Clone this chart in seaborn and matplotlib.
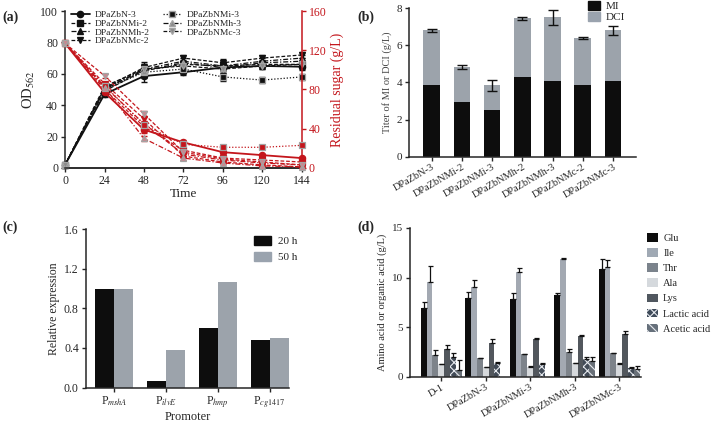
import numpy as np
import pandas as pd
import matplotlib
matplotlib.use('Agg')
import matplotlib.pyplot as plt
from matplotlib.patches import Patch
from matplotlib.lines import Line2D
import seaborn as sns

# ---------------- data ----------------
# (a) growth and residual sugar
time_h = [0, 24, 48, 72, 96, 120, 144]
strains_a = ['DPaZbN-3', 'DPaZbNMi-2', 'DPaZbNMh-2', 'DPaZbNMc-2',
             'DPaZbNMi-3', 'DPaZbNMh-3', 'DPaZbNMc-3']
od_n3 = [2, 47, 58.5, 61, 64, 65, 64.5]
od_mi2 = [2, 49, 62, 66, 65, 66, 66]
od_mh2 = [2, 50, 63, 68, 65, 68, 70]
od_mc2 = [2, 51, 64, 70, 67, 70, 72]
od_mi3 = [2, 50, 61, 63, 58, 56, 58]
od_mh3 = [2, 51, 62, 67, 64, 67, 68]
od_mc3 = [2, 52, 63, 65, 63, 65, 66]
od_err = [0.5, 1.5, 3.5, 2, 2.5, 2, 2]
sugar_n3 = [127, 77, 39, 26, 16, 13, 10]
sugar_mi2 = [127, 80, 42, 18, 10, 8, 6]
sugar_mh2 = [127, 83, 45, 14, 8, 5, 3]
sugar_mc2 = [127, 86, 50, 12, 6, 3, 1]
sugar_mi3 = [127, 84, 44, 24, 21, 21, 23]
sugar_mh3 = [127, 82, 30, 10, 5, 2, 1]
sugar_mc3 = [127, 94, 55, 16, 9, 6, 3]
sugar_err = [1, 2, 3, 2, 1.5, 1.5, 1.5]

# (b) MI / DCI titer
strains_b = ['DPaZbN-3', 'DPaZbNMi-2', 'DPaZbNMi-3', 'DPaZbNMh-2',
             'DPaZbNMh-3', 'DPaZbNMc-2', 'DPaZbNMc-3']
mi_titer = [3.85, 2.95, 2.5, 4.3, 4.1, 3.85, 4.1]
total_titer = [6.8, 4.85, 3.85, 7.45, 7.5, 6.4, 6.8]
total_err = [0.1, 0.1, 0.3, 0.07, 0.4, 0.05, 0.25]

# (c) promoter strength
promoters = [r'P$_{mshA}$', r'P$_{ilvE}$', r'P$_{hmp}$', r'P$_{cg1417}$']
expr_20h = [1.0, 0.07, 0.6, 0.48]
expr_50h = [1.0, 0.38, 1.07, 0.5]

# (d) by-products
strains_d = ['D-1', 'DPaZbN-3', 'DPaZbNMi-3', 'DPaZbNMh-3', 'DPaZbNMc-3']
compounds = ['Glu', 'Ile', 'Thr', 'Ala', 'Lys', 'Lactic acid', 'Acetic acid']
glu = [6.9, 7.9, 7.8, 8.2, 10.9]
ile = [9.6, 9.0, 10.6, 11.9, 11.1]
thr = [2.2, 1.9, 2.3, 2.5, 2.4]
ala = [1.3, 1.0, 1.05, 1.4, 1.35]
lys = [2.8, 3.4, 3.8, 4.1, 4.3]
lactic = [2.0, 1.4, 1.3, 1.8, 0.9]
acetic = [0.7, 0.0, 0.0, 1.6, 0.8]
glu_err = [0.6, 0.65, 0.65, 0.25, 1.0]
ile_err = [1.55, 0.75, 0.35, 0.1, 0.7]
thr_err = [0.5, 0.05, 0.05, 0.3, 0.05]
ala_err = [0.05, 0.05, 0.05, 0.05, 0.05]
lys_err = [0.45, 0.4, 0.15, 0.1, 0.35]
lactic_err = [0.4, 0.1, 0.1, 0.2, 0.1]
acetic_err = [1.0, 0.0, 0.0, 0.4, 0.3]

# ---------------- style ----------------
sns.set_style('ticks')
plt.rcParams['font.family'] = ['Liberation Serif', 'DejaVu Serif']
plt.rcParams['mathtext.fontset'] = 'stix'
plt.rcParams['axes.linewidth'] = 1.1
plt.rcParams['xtick.major.width'] = 1.0
plt.rcParams['ytick.major.width'] = 1.0
plt.rcParams['xtick.major.size'] = 3
plt.rcParams['ytick.major.size'] = 3
plt.rcParams['hatch.linewidth'] = 0.8

RED = '#c4161c'
GREYEDGE = '#a3a3a3'

fig = plt.figure(figsize=(7.15, 4.25), dpi=100)

# ---------------- (a) ----------------
ax_a = fig.add_axes([0.091, 0.605, 0.331, 0.369])
ax_s = ax_a.twinx()

od_series = [od_n3, od_mi2, od_mh2, od_mc2, od_mi3, od_mh3, od_mc3]
sugar_series = [sugar_n3, sugar_mi2, sugar_mh2, sugar_mc2, sugar_mi3, sugar_mh3, sugar_mc3]
markers = ['o', 's', '^', 'v', 's', '^', 'v']
styles = ['-', (0, (3, 1.5)), (0, (4, 1.5, 1, 1.5)), (0, (3, 1.5)),
          (0, (1, 1.5)), (0, (4, 1.5, 1, 1.5)), (0, (3, 1.5))]
od_face = ['#111111', '#111111', '#111111', '#111111', '#111111', '#8a8a8a', '#8a8a8a']
od_edge = ['#111111', '#111111', '#111111', '#111111', GREYEDGE, GREYEDGE, GREYEDGE]
sugar_face = [RED, RED, RED, RED, RED, '#c98890', '#c98890']
sugar_edge = [RED, RED, RED, RED, GREYEDGE, GREYEDGE, GREYEDGE]
line_w = [1.3, 0.9, 0.9, 0.9, 0.9, 0.9, 0.9]

for i in range(len(strains_a)):
    ax_a.errorbar(time_h, od_series[i], yerr=od_err, fmt='none', ecolor='#111111',
                  elinewidth=1.0, capsize=2.5, zorder=3, clip_on=False)
    sns.lineplot(x=time_h, y=od_series[i], ax=ax_a, color='#111111', linestyle=styles[i],
                 linewidth=line_w[i], marker=markers[i], markersize=4.5,
                 markerfacecolor=od_face[i], markeredgecolor=od_edge[i],
                 markeredgewidth=0.9, zorder=4, clip_on=False)
    ax_s.errorbar(time_h, sugar_series[i], yerr=sugar_err, fmt='none', ecolor=RED,
                  elinewidth=0.9, capsize=2.5, zorder=3, clip_on=False)
    sns.lineplot(x=time_h, y=sugar_series[i], ax=ax_s, color=RED, linestyle=styles[i],
                 linewidth=line_w[i], marker=markers[i], markersize=4.5,
                 markerfacecolor=sugar_face[i], markeredgecolor=sugar_edge[i],
                 markeredgewidth=0.9, zorder=4, clip_on=False)

ax_a.set_xlim(0, 144)
ax_a.set_ylim(0, 100)
ax_a.set_xticks(time_h)
ax_a.set_yticks([0, 20, 40, 60, 80, 100])
ax_s.set_ylim(0, 160)
ax_s.set_yticks([0, 40, 80, 120, 160])
ax_a.tick_params(labelsize=8.5, pad=2)
ax_s.tick_params(labelsize=8.5, pad=2, colors=RED)
ax_a.set_xlabel('Time', fontsize=9.5, labelpad=1)
ax_a.set_ylabel(r'OD$_{562}$', fontsize=10.5, labelpad=2)
ax_s.set_ylabel('Residual sugar (g/L)', fontsize=10, color=RED, labelpad=3)
ax_a.spines['top'].set_visible(False)
ax_s.spines['top'].set_visible(False)
ax_a.spines['right'].set_visible(False)
ax_s.spines['left'].set_visible(False)
ax_s.spines['right'].set_color(RED)
ax_s.spines['right'].set_linewidth(1.1)

handles_a = [Line2D([0], [0], color='#111111', linestyle=styles[i], linewidth=line_w[i],
                    marker=markers[i], markersize=4.5, markerfacecolor=od_face[i],
                    markeredgecolor=od_edge[i]) for i in range(len(strains_a))]
ax_a.legend(handles_a, strains_a, ncol=2, frameon=False, fontsize=6.8, loc='upper left',
            bbox_to_anchor=(0.0, 1.04), handlelength=2.0, handletextpad=0.5,
            columnspacing=1.4, labelspacing=0.02, borderaxespad=0.2)

# ---------------- (b) ----------------
ax_b = fig.add_axes([0.572, 0.631, 0.317, 0.35])
df_b = pd.DataFrame({'strain': strains_b, 'MI': mi_titer, 'total': total_titer})
DCI_COL = '#9aa3ae'
sns.barplot(data=df_b, x='strain', y='total', color=DCI_COL, width=0.55,
            linewidth=0, ax=ax_b)
sns.barplot(data=df_b, x='strain', y='MI', color='#0d0d0d', width=0.55,
            linewidth=0, ax=ax_b)
ax_b.errorbar(np.arange(len(strains_b)), total_titer, yerr=total_err, fmt='none',
              ecolor='#111111', elinewidth=1.0, capsize=3.5, capthick=1.0)
ax_b.set_xlim(-0.75, 6.75)
ax_b.set_ylim(0, 8)
ax_b.set_yticks([0, 2, 4, 6, 8])
ax_b.set_xlabel('')
ax_b.set_ylabel('Titer of MI or DCI (g/L)', fontsize=7.5, color='#444444', labelpad=3)
ax_b.tick_params(axis='y', labelsize=8, pad=2)
ax_b.tick_params(axis='x', labelsize=7.5, pad=1)
plt.setp(ax_b.get_xticklabels(), rotation=30, ha='right', rotation_mode='anchor')
sns.despine(ax=ax_b)
ax_b.legend([Patch(color='#0d0d0d'), Patch(color=DCI_COL)], ['MI', 'DCI'],
            frameon=False, fontsize=8, loc='upper left', bbox_to_anchor=(0.78, 1.06),
            handlelength=1.1, handleheight=0.8, handletextpad=0.5, labelspacing=0.05,
            borderaxespad=0.1, borderpad=0.1)

# ---------------- (c) ----------------
ax_c = fig.add_axes([0.120, 0.088, 0.284, 0.373])
df_c = pd.DataFrame({'promoter': promoters * 2,
                     'value': expr_20h + expr_50h,
                     'time': ['20 h'] * 4 + ['50 h'] * 4})
C50 = '#9aa3ae'
sns.barplot(data=df_c, x='promoter', y='value', hue='time', palette=['#0d0d0d', C50],
            width=0.73, gap=0, linewidth=0, legend=False, ax=ax_c)
ax_c.set_xlim(-0.54, 3.37)
ax_c.set_ylim(0, 1.6)
ax_c.set_yticks([0.0, 0.4, 0.8, 1.2, 1.6])
ax_c.set_yticklabels(['0.0', '0.4', '0.8', '1.2', '1.6'])
ax_c.set_xlabel('Promoter', fontsize=9, labelpad=0)
ax_c.set_ylabel('Relative expression', fontsize=8.5, labelpad=3)
ax_c.tick_params(axis='y', labelsize=8.5, pad=2)
ax_c.tick_params(axis='x', labelsize=8.5, pad=2)
sns.despine(ax=ax_c)
ax_c.legend([Patch(color='#0d0d0d'), Patch(color=C50)], ['20 h', '50 h'],
            frameon=False, fontsize=8, loc='upper left', bbox_to_anchor=(0.78, 1.02),
            handlelength=1.5, handleheight=0.9, handletextpad=0.6, labelspacing=0.5)

# ---------------- (d) ----------------
ax_d = fig.add_axes([0.573, 0.113, 0.324, 0.351])
values_d = [glu, ile, thr, ala, lys, lactic, acetic]
errors_d = [glu_err, ile_err, thr_err, ala_err, lys_err, lactic_err, acetic_err]
colors_d = ['#0d0d0d', '#a0a9b4', '#7b838c', '#d5d9dd', '#50575f', '#3f4b5a', '#66707b']
hatches_d = [None, None, None, None, None, 'xxxx', '\\\\\\\\']
rows = []
for c, vals in zip(compounds, values_d):
    for s, v in zip(strains_d, vals):
        rows.append({'strain': s, 'compound': c, 'value': v})
df_d = pd.DataFrame(rows)
sns.barplot(data=df_d, x='strain', y='value', hue='compound', hue_order=compounds,
            order=strains_d, palette=colors_d, width=0.92, gap=0, linewidth=0,
            legend=False, ax=ax_d)
bars = list(ax_d.patches)
k = 0
for ci in range(len(compounds)):
    for si in range(len(strains_d)):
        p = bars[k]
        k += 1
        if hatches_d[ci]:
            p.set_hatch(hatches_d[ci])
            p.set_edgecolor('#e6e9ee')
            p.set_linewidth(0)
        e = errors_d[ci][si]
        if e > 0:
            xc = p.get_x() + p.get_width() / 2
            ax_d.errorbar([xc], [p.get_height()], yerr=[[0], [e]], fmt='none',
                          ecolor='#111111', elinewidth=0.9, capsize=1.8, capthick=0.9)
ax_d.set_xlim(-0.71, 4.5)
ax_d.set_ylim(0, 15)
ax_d.set_yticks([0, 5, 10, 15])
ax_d.set_xlabel('')
ax_d.set_ylabel('Amino acid or organic acid (g/L)', fontsize=7.5, labelpad=3)
ax_d.tick_params(axis='y', labelsize=8, pad=2)
ax_d.tick_params(axis='x', labelsize=7.5, pad=1)
plt.setp(ax_d.get_xticklabels(), rotation=30, ha='right', rotation_mode='anchor')
sns.despine(ax=ax_d)
handles_d = [Patch(facecolor=colors_d[i], hatch=hatches_d[i],
                   edgecolor='#e6e9ee' if hatches_d[i] else colors_d[i], linewidth=0)
             for i in range(len(compounds))]
ax_d.legend(handles_d, compounds, frameon=False, fontsize=7.5, loc='upper left',
            bbox_to_anchor=(1.0, 1.0), handlelength=1.1, handleheight=0.9,
            handletextpad=0.5, labelspacing=0.5, borderaxespad=0.1)

# panel labels
for lbl, x, y in [('(a)', 0.003, 0.975), ('(b)', 0.500, 0.975),
                  ('(c)', 0.003, 0.48), ('(d)', 0.500, 0.48)]:
    fig.text(x, y, lbl, fontsize=10, fontweight='bold', va='top', ha='left')

fig.savefig('out.png', dpi=100, facecolor='white')
